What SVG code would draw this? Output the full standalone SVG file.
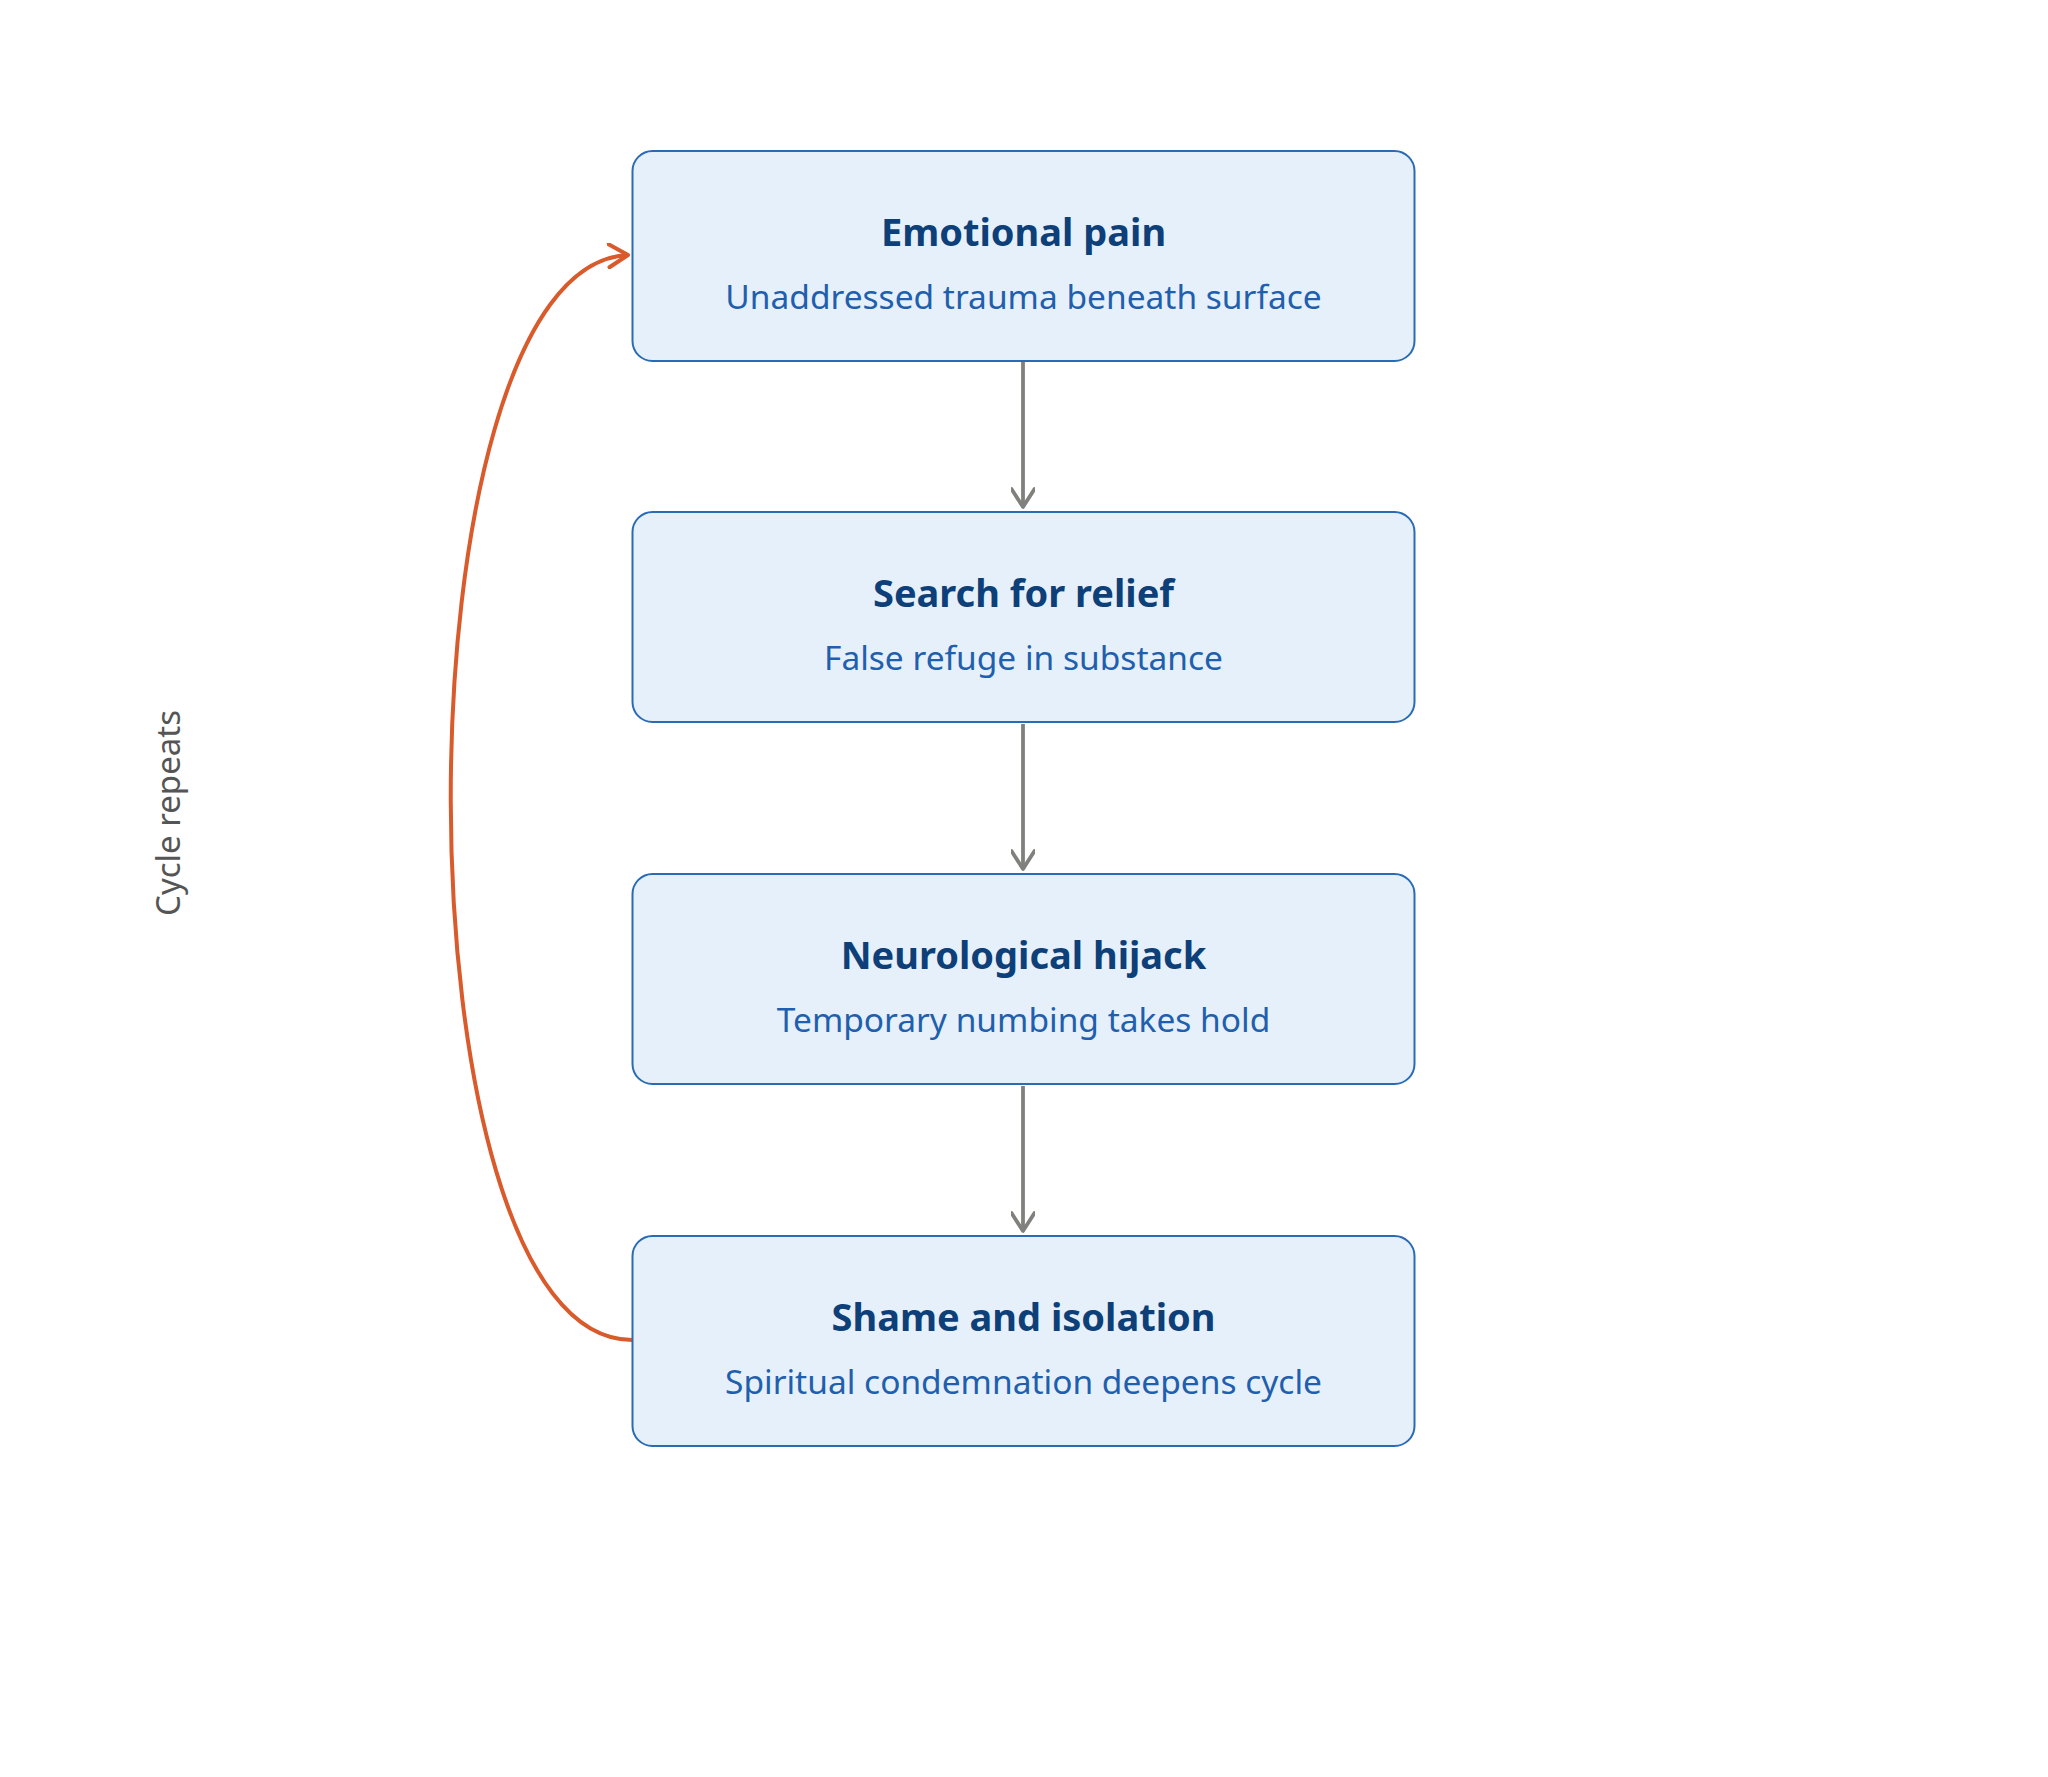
<svg xmlns="http://www.w3.org/2000/svg" width="2048" height="1777" viewBox="0 0 2048 1777">
  <style>
    .box { fill: #E6F0FA; stroke: #2A6BB5; stroke-width: 2; }
    .title { font-family: "Noto Sans", "Open Sans", sans-serif; font-weight: 700; font-size: 38px; fill: #0D3F78; text-anchor: middle; }
    .sub { font-family: "Noto Sans", "Open Sans", sans-serif; font-size: 33.5px; fill: #1F5FAD; text-anchor: middle; }
    .flow { fill: none; stroke: #80807C; stroke-width: 3.8; }
    .loop { fill: none; stroke: #D95A2B; stroke-width: 4; }
    .label { font-family: "Noto Sans", "Open Sans", sans-serif; font-size: 33px; fill: #555555; text-anchor: middle; }
  </style>
  <defs>
    <marker id="arrGray" viewBox="0 0 24 24" markerWidth="24" markerHeight="24" refX="20" refY="12" orient="auto" markerUnits="userSpaceOnUse">
      <path d="M2,0.5 L20,12 L2,23.5" fill="none" stroke="#80807C" stroke-width="3.8" stroke-linecap="round" stroke-linejoin="round"/>
    </marker>
    <marker id="arrOrange" viewBox="0 0 24 26" markerWidth="24" markerHeight="26" refX="21" refY="13" orient="auto" markerUnits="userSpaceOnUse">
      <path d="M2,1.5 L21,13 L2,24.5" fill="none" stroke="#D95A2B" stroke-width="4" stroke-linecap="round" stroke-linejoin="round"/>
    </marker>
  </defs>
  <rect width="2048" height="1777" fill="#FFFFFF"/>

  <g id="connectors">
    <line class="flow" x1="1023" y1="362" x2="1023" y2="507" marker-end="url(#arrGray)"/>
    <line class="flow" x1="1023" y1="724" x2="1023" y2="869" marker-end="url(#arrGray)"/>
    <line class="flow" x1="1023" y1="1086" x2="1023" y2="1231" marker-end="url(#arrGray)"/>
    <path class="loop" d="M632,1340 C391,1340 391,265 628,255" marker-end="url(#arrOrange)"/>
  </g>

  <g id="node-emotional-pain">
    <rect class="box" x="632.5" y="151" width="782" height="210" rx="20" ry="20"/>
    <text class="title" x="1023.5" y="246">Emotional pain</text>
    <text class="sub" x="1023.5" y="309">Unaddressed trauma beneath surface</text>
  </g>

  <g id="node-search-for-relief">
    <rect class="box" x="632.5" y="512" width="782" height="210" rx="20" ry="20"/>
    <text class="title" x="1023.5" y="607">Search for relief</text>
    <text class="sub" x="1023.5" y="670">False refuge in substance</text>
  </g>

  <g id="node-neurological-hijack">
    <rect class="box" x="632.5" y="874" width="782" height="210" rx="20" ry="20"/>
    <text class="title" x="1023.5" y="969">Neurological hijack</text>
    <text class="sub" x="1023.5" y="1032">Temporary numbing takes hold</text>
  </g>

  <g id="node-shame-and-isolation">
    <rect class="box" x="632.5" y="1236" width="782" height="210" rx="20" ry="20"/>
    <text class="title" x="1023.5" y="1331">Shame and isolation</text>
    <text class="sub" x="1023.5" y="1394">Spiritual condemnation deepens cycle</text>
  </g>

  <g id="label-cycle-repeats">
    <text class="label" x="0" y="0" transform="translate(180,813) rotate(-90)">Cycle repeats</text>
  </g>
</svg>
